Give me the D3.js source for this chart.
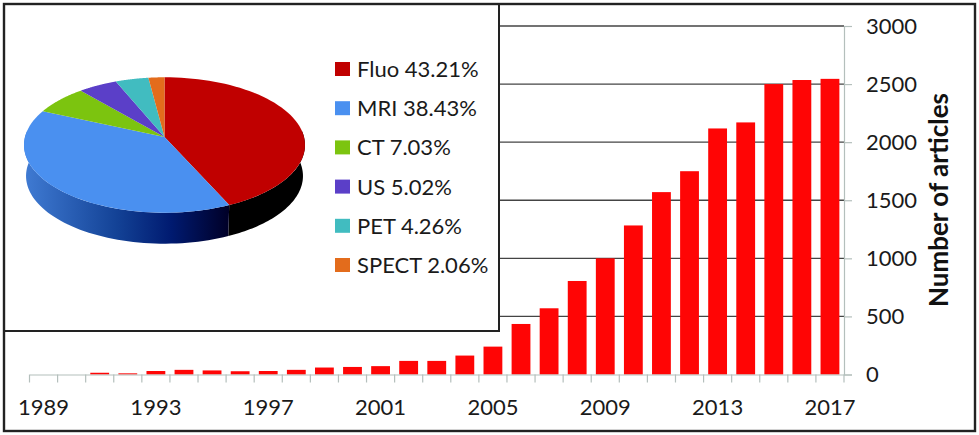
<!DOCTYPE html>
<html>
<head>
<meta charset="utf-8">
<script src="https://cdnjs.cloudflare.com/ajax/libs/d3/7.8.5/d3.min.js"></script>
<style>
  html, body { margin: 0; padding: 0; background: #fff; }
  svg { display: block; font-family: Lato, "Open Sans", sans-serif; }
</style>
</head>
<body>
<svg id="chart" width="979" height="435"></svg>
<script>
const years = d3.range(1989, 2018)
const articles = [0, 0, 15, 10, 30, 40, 35, 28, 30, 40, 60, 65, 72, 117, 117, 163, 240, 435, 570, 805, 1000, 1283, 1570, 1750, 2118, 2170, 2500, 2535, 2545]
const yTicks = [0, 500, 1000, 1500, 2000, 2500, 3000]
const yearLabels = [1989, 1993, 1997, 2001, 2005, 2009, 2013, 2017]

const modalities = ['Fluo', 'MRI', 'CT', 'US', 'PET', 'SPECT']
const shares = [43.21, 38.43, 7.03, 5.02, 4.26, 2.06]
const pieColors = ['#c00000', '#4a90f0', '#7cc40f', '#5b3fc8', '#41bcc0', '#e36c1c']

const svg = d3.select('#chart')

// Bars
const x = d3.scaleBand().domain(years).range([29.5, 844]).paddingInner(0.33).paddingOuter(0.165)
const y = d3.scaleLinear().domain([0, 3000]).range([374.5, 26])

const grid = svg.append('g')
grid.selectAll('line')
  .data(yTicks.slice(1))
  .enter().append('line')
  .attr('x1', 29.5).attr('x2', 844)
  .attr('y1', d => y(d)).attr('y2', d => y(d))
  .attr('stroke', '#444').attr('stroke-width', 1.3)

svg.append('g').selectAll('rect')
  .data(articles)
  .enter().append('rect')
  .attr('x', (d, i) => x(years[i]))
  .attr('width', x.bandwidth())
  .attr('y', d => y(d))
  .attr('height', d => y(0) - y(d))
  .attr('fill', '#ff0505')

// Axes
const yAxis = d3.axisRight(y).tickValues(yTicks).tickFormat(d3.format('d')).tickSize(8).tickPadding(14)
const gy = svg.append('g').attr('transform', 'translate(844,0)').call(yAxis)

const xAxis = d3.axisBottom(x).tickValues(yearLabels).tickSize(0).tickPadding(25)
const gx = svg.append('g').attr('transform', `translate(0,${y(0)})`).call(xAxis)

// Ticks sit on the band edges, not under the bars
const step = x.step()
gx.selectAll('line.edge')
  .data(d3.range(years.length + 1))
  .enter().append('line')
  .attr('class', 'edge')
  .attr('x1', i => 29.5 + i * step).attr('x2', i => 29.5 + i * step)
  .attr('y1', 0).attr('y2', 8)
  .attr('stroke', '#b4bfbc').attr('stroke-width', 1.2)

for (const g of [gx, gy]) {
  g.selectAll('.domain').attr('stroke', '#b4bfbc').attr('stroke-width', 1.2)
  g.selectAll('.tick line').attr('stroke', '#b4bfbc').attr('stroke-width', 1.2)
  g.selectAll('text').attr('font-size', 22).attr('fill', '#1a1a1a').attr('font-family', 'Lato')
}

svg.append('text')
  .attr('transform', 'translate(948,200) rotate(-90)')
  .attr('text-anchor', 'middle')
  .attr('font-size', 26)
  .attr('font-weight', 700)
  .attr('fill', '#111')
  .text('Number of articles')

// Inset box covering the upper left part of the plot
svg.append('rect')
  .attr('x', 4).attr('y', 4).attr('width', 495).attr('height', 327)
  .attr('fill', '#fff').attr('stroke', '#222').attr('stroke-width', 2)

// 3D pie: a disc seen in perspective
const pieCx = 164.5
const persp = -0.118
function rim(angle, top) {
  const u = Math.sin(angle)
  const v = -Math.cos(angle)
  const w = 1 + persp * v
  return top
    ? [pieCx + 139.5 * u / w, 137 + 66.75 * v / w]
    : [pieCx + 137.5 * u / w, 168 + 66.75 * v / w]
}

const arcs = d3.pie().sort(null)(shares)
const line = d3.line()

const defs = svg.append('defs')
const sideGradient = defs.append('linearGradient')
  .attr('id', 'sideBlue')
  .attr('gradientUnits', 'userSpaceOnUse')
  .attr('x1', 26).attr('x2', 228).attr('y1', 0).attr('y2', 0)
sideGradient.append('stop').attr('offset', '0%').attr('stop-color', '#3f7ad2')
sideGradient.append('stop').attr('offset', '45%').attr('stop-color', '#134296')
sideGradient.append('stop').attr('offset', '72%').attr('stop-color', '#001a70')
sideGradient.append('stop').attr('offset', '100%').attr('stop-color', '#000028')

const pie = svg.append('g')

// Side walls: only the front half of the disc is visible
function wall(a0, a1, fill) {
  const steps = d3.range(0, 61).map(k => a0 + (a1 - a0) * k / 60)
  const pts = steps.map(a => rim(a, true)).concat(steps.slice().reverse().map(a => rim(a, false)))
  pie.append('path').attr('d', line(pts) + 'Z').attr('fill', fill)
}
wall(Math.PI / 2 - 0.1, arcs[0].endAngle, '#000')
wall(arcs[1].startAngle, 3 * Math.PI / 2 + 0.1, 'url(#sideBlue)')

// Top faces
pie.selectAll('path.slice')
  .data(arcs)
  .enter().append('path')
  .attr('class', 'slice')
  .attr('fill', (d, i) => pieColors[i])
  .attr('d', d => {
    const pts = d3.range(0, 61).map(k => rim(d.startAngle + (d.endAngle - d.startAngle) * k / 60, true))
    return line([[pieCx, 137], ...pts]) + 'Z'
  })

// Legend
const legendY = d3.scalePoint().domain(modalities).range([69, 265])
const legend = svg.append('g').selectAll('g')
  .data(modalities)
  .enter().append('g')
  .attr('transform', d => `translate(335,${legendY(d)})`)
legend.append('rect')
  .attr('x', 0).attr('y', -7).attr('width', 15).attr('height', 14)
  .attr('fill', (d, i) => pieColors[i])
legend.append('text')
  .attr('x', 22).attr('dy', '0.36em')
  .attr('font-size', 22).attr('fill', '#1a1a1a')
  .text((d, i) => `${d} ${shares[i].toFixed(2)}%`)

// Outer frame
svg.append('rect')
  .attr('x', 4).attr('y', 4).attr('width', 971).attr('height', 427)
  .attr('fill', 'none').attr('stroke', '#222').attr('stroke-width', 2.4)
</script>
</body>
</html>
